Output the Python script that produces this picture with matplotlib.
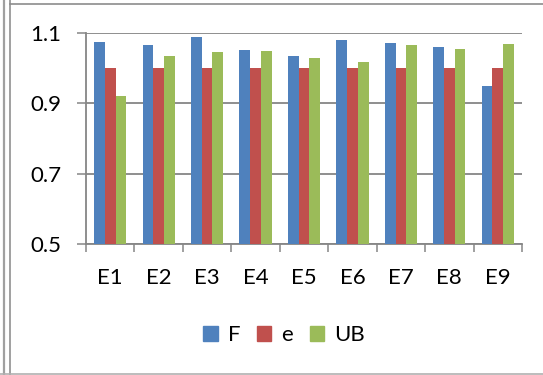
import numpy as np
import matplotlib
matplotlib.use("Agg")
import matplotlib.pyplot as plt
from matplotlib.lines import Line2D
from matplotlib.patches import Patch

# values per experiment
experiments = ["E1", "E2", "E3", "E4", "E5", "E6", "E7", "E8", "E9"]
f_vals  = [1.075, 1.066, 1.089, 1.051, 1.036, 1.079, 1.071, 1.059, 0.949]
e_vals  = [1.000, 1.000, 1.001, 1.000, 1.000, 1.000, 1.000, 1.000, 1.001]
ub_vals = [0.922, 1.036, 1.046, 1.048, 1.029, 1.018, 1.065, 1.054, 1.070]

series = [("F", f_vals, "#4F81BD"), ("e", e_vals, "#C0504D"), ("UB", ub_vals, "#9BBB59")]
yticks = [0.5, 0.7, 0.9, 1.1]

plt.rcParams["font.family"] = ["Lato", "DejaVu Sans"]
FS = 16
W, H = 543, 375
fig = plt.figure(figsize=(W / 100, H / 100), dpi=100)
ax = fig.add_axes([86 / W, 1 - 244 / H, (522 - 86) / W, (244 - 33) / H])

x = np.arange(len(experiments))
bw = 0.221
for k, (name, vals, col) in enumerate(series):
    ax.bar(x + (k - 1) * bw, vals, width=bw, color=col, label=name, zorder=3)

ax.set_xlim(-0.5, len(experiments) - 0.5)
ax.set_ylim(0.5, 1.1)
ax.set_yticks(yticks)
ax.set_yticklabels([f"{v:.1f}" for v in yticks], fontsize=FS)
ax.set_xticks(x)
ax.set_xticklabels(experiments, fontsize=FS)
ax.set_xticks(np.arange(-0.5, len(experiments)), minor=True)

grid_col = "#868686"
ax.yaxis.grid(True, color=grid_col, linewidth=1.3, zorder=0)
ax.tick_params(axis="y", length=6.5, width=1.1, color=grid_col, pad=11)
ax.tick_params(axis="x", which="major", length=0, pad=17)
ax.tick_params(axis="x", which="minor", length=6, width=1.1, color=grid_col)
for side in ["top", "right"]:
    ax.spines[side].set_visible(False)
for side in ["left", "bottom"]:
    ax.spines[side].set_color(grid_col)
    ax.spines[side].set_linewidth(1.3)

handles = [Patch(color=c, label=n) for n, _, c in series]
fig.legend(handles=handles, loc="center", bbox_to_anchor=(284 / W, 1 - 335 / H),
           ncol=3, frameon=False, fontsize=FS, handlelength=0.65, handleheight=0.65,
           handletextpad=0.45, columnspacing=0.75)

# outer frame lines
def px_line(x0, y0, x1, y1, col, lw):
    fig.add_artist(Line2D([x0 / W, x1 / W], [1 - y0 / H, 1 - y1 / H],
                          transform=fig.transFigure, color=col, linewidth=lw))

px_line(4, 0, 4, H, "#A0A0A0", 1.6)
px_line(10, 0, 10, H, "#A0A0A0", 1.4)
px_line(10, 3.5, W, 3.5, "#8C8C8C", 1.2)
px_line(0, 373.5, W, 373.5, "#B0B0B0", 1.2)

fig.savefig("out.png", dpi=100)
